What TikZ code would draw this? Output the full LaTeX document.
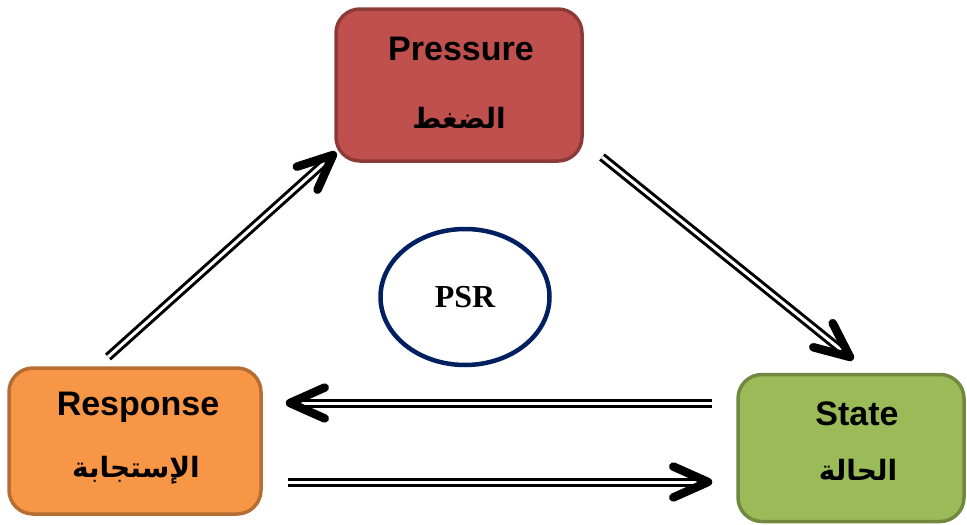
\documentclass[tikz,border=0pt]{standalone}
\usepackage{fontspec}
\setmainfont{Liberation Sans}
\newfontfamily\arabicfont[Script=Arabic]{DejaVu Sans}
\newfontfamily\psrfont{Liberation Serif}
\TeXXeTstate=1
\usetikzlibrary{calc,shapes.geometric}

\definecolor{pfill}{HTML}{C0504D}
\definecolor{pline}{HTML}{8C3A38}
\definecolor{rfill}{HTML}{F79646}
\definecolor{rline}{HTML}{B66D31}
\definecolor{sfill}{HTML}{9BBB59}
\definecolor{sline}{HTML}{71893F}
\definecolor{navy}{HTML}{002060}

\tikzset{
  stagebox/.style={rectangle, line width=3.5pt, rounded corners=24pt, inner sep=0pt},
  entitle/.style={font=\bfseries\fontsize{34}{40}\selectfont, inner sep=0pt},
  artitle/.style={font=\arabicfont\bfseries\fontsize{28}{34}\selectfont, inner sep=0pt},
  dblline/.style={draw=black, line width=3pt, double=white, double distance=3pt, shorten >=7pt},
  chevron/.style={draw=black, line width=8.5pt, line cap=round, line join=round},
}

% double shaft with an open chevron head
\newcommand\flowarrow[2]{%
  \draw[dblline] (#1) -- (#2);
  \draw[chevron] ($(#2)!38pt!24:(#1)$) -- (#2) -- ($(#2)!38pt!-24:(#1)$);
}

\begin{document}
\begin{tikzpicture}[x=1pt, y=-1pt]
  \useasboundingbox (0,0) rectangle (967,525);

  % the three stages
  \node[stagebox, draw=pline, fill=pfill, minimum width=246pt, minimum height=152pt] (pressure) at (459,85) {};
  \node[stagebox, draw=rline, fill=rfill, minimum width=252pt, minimum height=146pt] (response) at (135,441) {};
  \node[stagebox, draw=sline, fill=sfill, minimum width=226pt, minimum height=147pt] (state) at (851,448) {};

  \node[entitle] (pressureEn) at (461,49) {Pressure};
  \node[artitle] (pressureAr) at (459,118) {\beginR الضغط\endR};
  \node[entitle] (responseEn) at (138,407) {Response};
  \node[artitle] (responseAr) at (136,470) {\beginR الإستجابة\endR};
  \node[entitle] (stateEn) at (857,414) {State};
  \node[artitle] (stateAr) at (858,470) {\beginR الحالة\endR};

  % centre label
  \node[ellipse, draw=navy, line width=4.5pt, minimum width=169pt, minimum height=136pt,
        font=\psrfont\bfseries\fontsize{32}{38}\selectfont] (psr) at (465,297) {PSR};

  % connector ends
  \coordinate (r2pA) at (108,357);
  \coordinate (r2pB) at (333,155);
  \coordinate (p2sA) at (602,157);
  \coordinate (p2sB) at (850,357);
  \coordinate (s2rA) at (712,403);
  \coordinate (s2rB) at (290,403);
  \coordinate (r2sA) at (288,482);
  \coordinate (r2sB) at (708,482);

  \flowarrow{r2pA}{r2pB}
  \flowarrow{p2sA}{p2sB}
  \flowarrow{s2rA}{s2rB}
  \flowarrow{r2sA}{r2sB}
\end{tikzpicture}
\end{document}
